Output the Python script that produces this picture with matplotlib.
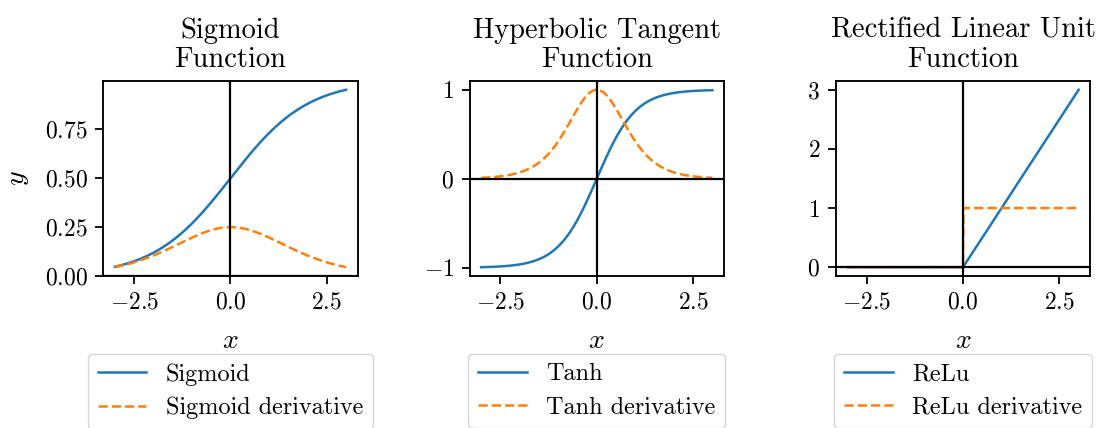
import numpy as np
from matplotlib import pyplot as plt

plt.rcParams["font.family"] = "serif"
plt.rcParams["font.serif"] = ["cmr10"]
plt.rcParams["mathtext.fontset"] = "cm"
plt.rcParams["axes.formatter.use_mathtext"] = True
plt.rcParams["font.size"] = 17.5

# input range shared by all three activations
x_min, x_max = -3.0, 3.0
x = np.linspace(x_min, x_max, 601)
x_ticks = [-2.5, 0.0, 2.5]

titles = ["Sigmoid\nFunction", "Hyperbolic Tangent\nFunction", "Rectified Linear Unit\nFunction"]
names = ["Sigmoid", "Tanh", "ReLu"]

sigmoid = 1 / (1 + np.exp(-x))
sigmoid_d = sigmoid * (1 - sigmoid)
tanh = np.tanh(x)
tanh_d = 1 - tanh ** 2
relu = np.maximum(0, x)
relu_d = (x > 0).astype(float)

curves = [(sigmoid, sigmoid_d), (tanh, tanh_d), (relu, relu_d)]

fig, axes = plt.subplots(1, 3, figsize=(10.99, 4.28), dpi=100)
fig.subplots_adjust(left=0.094, right=0.992, top=0.811, bottom=0.355, wspace=0.44)

for i, ax in enumerate(axes):
    f, df = curves[i]
    ax.plot(x, f, color="tab:blue", lw=1.8, label=names[i])
    ax.plot(x, df, color="tab:orange", lw=1.8, ls="--", label=f"{names[i]} derivative")
    ax.axhline(0, color="black", lw=1.6)
    ax.axvline(0, color="black", lw=1.6)
    ax.set_title(titles[i], fontsize=20.5, linespacing=1.15, pad=10)
    ax.set_xlabel("$x$", fontsize=20, labelpad=10)
    ax.set_xticks(x_ticks)
    for s in ax.spines.values():
        s.set_linewidth(1.35)
    ax.tick_params(width=1.3, length=5.8, pad=5.5, labelsize=17)
    ax.legend(loc="upper center", bbox_to_anchor=(0.5, -0.335), fontsize=17.5,
              handlelength=2.0, borderpad=0.4, labelspacing=0.45)

axes[0].set_ylim(bottom=0)
axes[0].set_yticks([0, 0.25, 0.5, 0.75])
axes[0].set_ylabel("$y$", fontsize=20, labelpad=10)
axes[1].set_yticks([-1, 0, 1])

fig.savefig("out.png", dpi=100)
